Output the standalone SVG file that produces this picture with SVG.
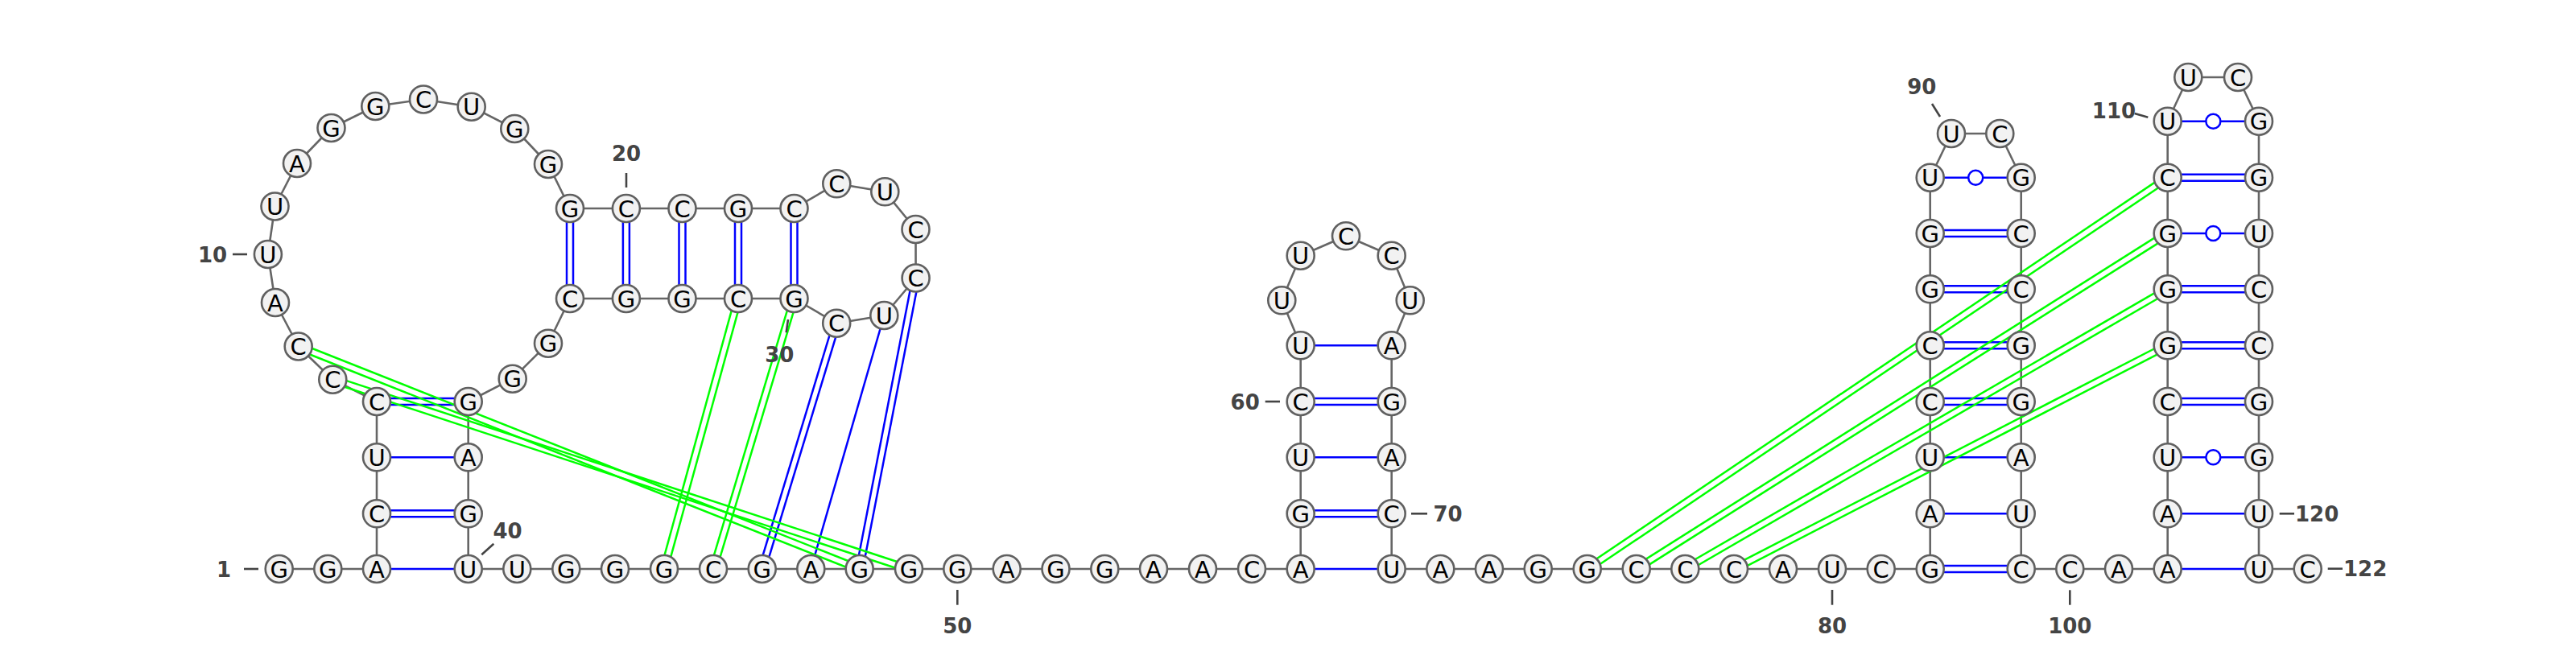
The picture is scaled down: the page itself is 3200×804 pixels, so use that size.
<svg xmlns="http://www.w3.org/2000/svg" width="3200" height="804" viewBox="0 0 3200 804">
<style>
.bb{fill:none;stroke:#666;stroke-width:2.6;stroke-linejoin:round}
.bp line{stroke:#0000ff;stroke-width:2.5}
.pk line{stroke:#00ff00;stroke-width:2.5}
.wb{fill:#fff;stroke:#0000ff;stroke-width:2.5}
.nd circle{fill:#f2f2f2;stroke:#606060;stroke-width:2.6}
.nd text{font-family:"DejaVu Sans",sans-serif;font-size:29px;text-anchor:middle;fill:#000}
.lb text{font-family:"DejaVu Sans",sans-serif;font-size:26px;font-weight:bold;fill:#444}
.lb line{stroke:#444;stroke-width:2.6}
</style>
<rect width="3200" height="804" fill="#fff"/>
<g id="connectors">
<polyline class="bb" points="346.7,707 407.3,707 468,707 468,638.3 468,568.3 468,499 413.3,471.7 370.7,430.5 342,376 332.9,316 341.5,256.5 369,203 411.5,159 466.3,132 526,123.5 585.7,132.7 639.3,160 681,204 708,259 777.9,259 847.5,259 917,259 986.5,259 1039.3,228.3 1099.3,238.3 1137.5,285 1137.6,345.5 1098.3,392 1039.2,401.7 986.5,371 917,371 847.5,371 777.9,371 708,371 681,426.7 636.7,470.7 581.7,499 581.7,568.3 581.7,638.3 581.7,707 642.3,707 703.3,707 764,707 825,707 886,707 946.7,707 1007.3,707 1067.7,707 1129,707 1189.3,707 1250.7,707 1311.5,707 1372.3,707 1433,707 1494,707 1555,707 1615.7,707 1615.7,638.3 1615.7,568.3 1615.7,499 1615.7,429.3 1592.3,373.3 1615.7,317.7 1672,293.3 1728.7,317.7 1751.7,373.3 1728.7,429.3 1728.7,499 1728.7,568.3 1728.7,638.3 1728.7,707 1789.3,707 1850,707 1910.7,707 1971.7,707 2032.7,707 2093.3,707 2154,707 2215,707 2276,707 2336.7,707 2397.7,707 2397.7,638.3 2397.7,568.3 2397.7,499 2397.7,429.3 2397.7,359.3 2397.7,290 2397.7,220.7 2424,166 2484.3,166 2510.7,220.7 2510.7,290 2510.7,359.3 2510.7,429.3 2510.7,499 2510.7,568.3 2510.7,638.3 2510.7,707 2571.3,707 2632,707 2692.7,707 2692.7,638.3 2692.7,568.3 2692.7,499 2692.7,429.3 2692.7,359.3 2692.7,290 2692.7,220.7 2692.7,150.7 2718.3,96 2780,96 2806,150.7 2806,220.7 2806,290 2806,359.3 2806,429.3 2806,499 2806,568.3 2806,638.3 2806,707 2866.7,707"/>
<g class="bp">
<line x1="468" y1="707" x2="581.7" y2="707"/>
<line x1="468" y1="634.3" x2="581.7" y2="634.3"/><line x1="468" y1="642.3" x2="581.7" y2="642.3"/>
<line x1="468" y1="568.3" x2="581.7" y2="568.3"/>
<line x1="468" y1="495" x2="581.7" y2="495"/><line x1="468" y1="503" x2="581.7" y2="503"/>
<line x1="704" y1="259" x2="704" y2="371"/><line x1="712" y1="259" x2="712" y2="371"/>
<line x1="773.9" y1="259" x2="773.9" y2="371"/><line x1="781.9" y1="259" x2="781.9" y2="371"/>
<line x1="843.5" y1="259" x2="843.5" y2="371"/><line x1="851.5" y1="259" x2="851.5" y2="371"/>
<line x1="913" y1="259" x2="913" y2="371"/><line x1="921" y1="259" x2="921" y2="371"/>
<line x1="982.5" y1="259" x2="982.5" y2="371"/><line x1="990.5" y1="259" x2="990.5" y2="371"/>
<line x1="1133.67" y1="344.74" x2="1063.77" y2="706.24"/><line x1="1141.53" y1="346.26" x2="1071.63" y2="707.76"/>
<line x1="1098.3" y1="392" x2="1007.3" y2="707"/>
<line x1="1035.37" y1="400.54" x2="942.87" y2="705.84"/><line x1="1043.03" y1="402.86" x2="950.53" y2="708.16"/>
<line x1="1615.7" y1="707" x2="1728.7" y2="707"/>
<line x1="1615.7" y1="634.3" x2="1728.7" y2="634.3"/><line x1="1615.7" y1="642.3" x2="1728.7" y2="642.3"/>
<line x1="1615.7" y1="568.3" x2="1728.7" y2="568.3"/>
<line x1="1615.7" y1="495" x2="1728.7" y2="495"/><line x1="1615.7" y1="503" x2="1728.7" y2="503"/>
<line x1="1615.7" y1="429.3" x2="1728.7" y2="429.3"/>
<line x1="2397.7" y1="703" x2="2510.7" y2="703"/><line x1="2397.7" y1="711" x2="2510.7" y2="711"/>
<line x1="2397.7" y1="638.3" x2="2510.7" y2="638.3"/>
<line x1="2397.7" y1="568.3" x2="2510.7" y2="568.3"/>
<line x1="2397.7" y1="495" x2="2510.7" y2="495"/><line x1="2397.7" y1="503" x2="2510.7" y2="503"/>
<line x1="2397.7" y1="425.3" x2="2510.7" y2="425.3"/><line x1="2397.7" y1="433.3" x2="2510.7" y2="433.3"/>
<line x1="2397.7" y1="355.3" x2="2510.7" y2="355.3"/><line x1="2397.7" y1="363.3" x2="2510.7" y2="363.3"/>
<line x1="2397.7" y1="286" x2="2510.7" y2="286"/><line x1="2397.7" y1="294" x2="2510.7" y2="294"/>
<line x1="2397.7" y1="220.7" x2="2510.7" y2="220.7"/>
<line x1="2692.7" y1="707" x2="2806" y2="707"/>
<line x1="2692.7" y1="638.3" x2="2806" y2="638.3"/>
<line x1="2692.7" y1="568.3" x2="2806" y2="568.3"/>
<line x1="2692.7" y1="495" x2="2806" y2="495"/><line x1="2692.7" y1="503" x2="2806" y2="503"/>
<line x1="2692.7" y1="425.3" x2="2806" y2="425.3"/><line x1="2692.7" y1="433.3" x2="2806" y2="433.3"/>
<line x1="2692.7" y1="355.3" x2="2806" y2="355.3"/><line x1="2692.7" y1="363.3" x2="2806" y2="363.3"/>
<line x1="2692.7" y1="290" x2="2806" y2="290"/>
<line x1="2692.7" y1="216.7" x2="2806" y2="216.7"/><line x1="2692.7" y1="224.7" x2="2806" y2="224.7"/>
<line x1="2692.7" y1="150.7" x2="2806" y2="150.7"/>
</g>
<circle class="wb" cx="2454.2" cy="220.7" r="9"/>
<circle class="wb" cx="2749.35" cy="568.3" r="9"/>
<circle class="wb" cx="2749.35" cy="290" r="9"/>
<circle class="wb" cx="2749.35" cy="150.7" r="9"/>
<g class="pk">
<line x1="412.05" y1="475.5" x2="1127.75" y2="710.8"/><line x1="414.55" y1="467.9" x2="1130.25" y2="703.2"/>
<line x1="369.22" y1="434.22" x2="1066.22" y2="710.72"/><line x1="372.18" y1="426.78" x2="1069.18" y2="703.28"/>
<line x1="982.67" y1="369.85" x2="882.17" y2="705.85"/><line x1="990.33" y1="372.15" x2="889.83" y2="708.15"/>
<line x1="913.14" y1="369.94" x2="821.14" y2="705.94"/><line x1="920.86" y1="372.06" x2="828.86" y2="708.06"/>
<line x1="1973.94" y1="710.32" x2="2694.94" y2="224.02"/><line x1="1969.46" y1="703.68" x2="2690.46" y2="217.38"/>
<line x1="2034.84" y1="710.38" x2="2694.84" y2="293.38"/><line x1="2030.56" y1="703.62" x2="2690.56" y2="286.62"/>
<line x1="2095.31" y1="710.46" x2="2694.71" y2="362.76"/><line x1="2091.29" y1="703.54" x2="2690.69" y2="355.84"/>
<line x1="2155.83" y1="710.56" x2="2694.53" y2="432.86"/><line x1="2152.17" y1="703.44" x2="2690.87" y2="425.74"/>
</g>
</g>
<g id="labels" class="lb">
<line x1="303" y1="707" x2="321" y2="707"/><text x="278" y="716.5" text-anchor="middle">1</text>
<line x1="289" y1="316" x2="307" y2="316"/><text x="264" y="325.5" text-anchor="middle">10</text>
<line x1="778" y1="215" x2="778" y2="233"/><text x="778" y="200.2" text-anchor="middle">20</text>
<line x1="979" y1="397" x2="976.7" y2="413.3"/><text x="968.3" y="449.5" text-anchor="middle">30</text>
<line x1="598.3" y1="689.3" x2="613.3" y2="675.7"/><text x="630.5" y="668.5" text-anchor="middle">40</text>
<line x1="1189.3" y1="733" x2="1189.3" y2="751.7"/><text x="1189.3" y="787" text-anchor="middle">50</text>
<line x1="1571.7" y1="499" x2="1590" y2="499"/><text x="1546.7" y="508.5" text-anchor="middle">60</text>
<line x1="1753" y1="638.3" x2="1773" y2="638.3"/><text x="1798.5" y="647.8" text-anchor="middle">70</text>
<line x1="2276" y1="733" x2="2276" y2="751.7"/><text x="2276" y="787" text-anchor="middle">80</text>
<line x1="2400" y1="129" x2="2410" y2="145"/><text x="2387.3" y="117.2" text-anchor="middle">90</text>
<line x1="2571.3" y1="733.3" x2="2571.3" y2="751.7"/><text x="2571.3" y="787.3" text-anchor="middle">100</text>
<line x1="2651.7" y1="141" x2="2668.3" y2="145.7"/><text x="2626" y="146.8" text-anchor="middle">110</text>
<line x1="2831.7" y1="638.3" x2="2850" y2="638.3"/><text x="2851" y="647.8">120</text>
<line x1="2891.7" y1="706.7" x2="2910" y2="706.7"/><text x="2911" y="716.2">122</text>
</g>
<g id="nodes" class="nd">
<g id="n1" transform="translate(346.7,707)"><circle r="17"/><text y="10.5">G</text></g>
<g id="n2" transform="translate(407.3,707)"><circle r="17"/><text y="10.5">G</text></g>
<g id="n3" transform="translate(468,707)"><circle r="17"/><text y="10.5">A</text></g>
<g id="n4" transform="translate(468,638.3)"><circle r="17"/><text y="10.5">C</text></g>
<g id="n5" transform="translate(468,568.3)"><circle r="17"/><text y="10.5">U</text></g>
<g id="n6" transform="translate(468,499)"><circle r="17"/><text y="10.5">C</text></g>
<g id="n7" transform="translate(413.3,471.7)"><circle r="17"/><text y="10.5">C</text></g>
<g id="n8" transform="translate(370.7,430.5)"><circle r="17"/><text y="10.5">C</text></g>
<g id="n9" transform="translate(342,376)"><circle r="17"/><text y="10.5">A</text></g>
<g id="n10" transform="translate(332.9,316)"><circle r="17"/><text y="10.5">U</text></g>
<g id="n11" transform="translate(341.5,256.5)"><circle r="17"/><text y="10.5">U</text></g>
<g id="n12" transform="translate(369,203)"><circle r="17"/><text y="10.5">A</text></g>
<g id="n13" transform="translate(411.5,159)"><circle r="17"/><text y="10.5">G</text></g>
<g id="n14" transform="translate(466.3,132)"><circle r="17"/><text y="10.5">G</text></g>
<g id="n15" transform="translate(526,123.5)"><circle r="17"/><text y="10.5">C</text></g>
<g id="n16" transform="translate(585.7,132.7)"><circle r="17"/><text y="10.5">U</text></g>
<g id="n17" transform="translate(639.3,160)"><circle r="17"/><text y="10.5">G</text></g>
<g id="n18" transform="translate(681,204)"><circle r="17"/><text y="10.5">G</text></g>
<g id="n19" transform="translate(708,259)"><circle r="17"/><text y="10.5">G</text></g>
<g id="n20" transform="translate(777.9,259)"><circle r="17"/><text y="10.5">C</text></g>
<g id="n21" transform="translate(847.5,259)"><circle r="17"/><text y="10.5">C</text></g>
<g id="n22" transform="translate(917,259)"><circle r="17"/><text y="10.5">G</text></g>
<g id="n23" transform="translate(986.5,259)"><circle r="17"/><text y="10.5">C</text></g>
<g id="n24" transform="translate(1039.3,228.3)"><circle r="17"/><text y="10.5">C</text></g>
<g id="n25" transform="translate(1099.3,238.3)"><circle r="17"/><text y="10.5">U</text></g>
<g id="n26" transform="translate(1137.5,285)"><circle r="17"/><text y="10.5">C</text></g>
<g id="n27" transform="translate(1137.6,345.5)"><circle r="17"/><text y="10.5">C</text></g>
<g id="n28" transform="translate(1098.3,392)"><circle r="17"/><text y="10.5">U</text></g>
<g id="n29" transform="translate(1039.2,401.7)"><circle r="17"/><text y="10.5">C</text></g>
<g id="n30" transform="translate(986.5,371)"><circle r="17"/><text y="10.5">G</text></g>
<g id="n31" transform="translate(917,371)"><circle r="17"/><text y="10.5">C</text></g>
<g id="n32" transform="translate(847.5,371)"><circle r="17"/><text y="10.5">G</text></g>
<g id="n33" transform="translate(777.9,371)"><circle r="17"/><text y="10.5">G</text></g>
<g id="n34" transform="translate(708,371)"><circle r="17"/><text y="10.5">C</text></g>
<g id="n35" transform="translate(681,426.7)"><circle r="17"/><text y="10.5">G</text></g>
<g id="n36" transform="translate(636.7,470.7)"><circle r="17"/><text y="10.5">G</text></g>
<g id="n37" transform="translate(581.7,499)"><circle r="17"/><text y="10.5">G</text></g>
<g id="n38" transform="translate(581.7,568.3)"><circle r="17"/><text y="10.5">A</text></g>
<g id="n39" transform="translate(581.7,638.3)"><circle r="17"/><text y="10.5">G</text></g>
<g id="n40" transform="translate(581.7,707)"><circle r="17"/><text y="10.5">U</text></g>
<g id="n41" transform="translate(642.3,707)"><circle r="17"/><text y="10.5">U</text></g>
<g id="n42" transform="translate(703.3,707)"><circle r="17"/><text y="10.5">G</text></g>
<g id="n43" transform="translate(764,707)"><circle r="17"/><text y="10.5">G</text></g>
<g id="n44" transform="translate(825,707)"><circle r="17"/><text y="10.5">G</text></g>
<g id="n45" transform="translate(886,707)"><circle r="17"/><text y="10.5">C</text></g>
<g id="n46" transform="translate(946.7,707)"><circle r="17"/><text y="10.5">G</text></g>
<g id="n47" transform="translate(1007.3,707)"><circle r="17"/><text y="10.5">A</text></g>
<g id="n48" transform="translate(1067.7,707)"><circle r="17"/><text y="10.5">G</text></g>
<g id="n49" transform="translate(1129,707)"><circle r="17"/><text y="10.5">G</text></g>
<g id="n50" transform="translate(1189.3,707)"><circle r="17"/><text y="10.5">G</text></g>
<g id="n51" transform="translate(1250.7,707)"><circle r="17"/><text y="10.5">A</text></g>
<g id="n52" transform="translate(1311.5,707)"><circle r="17"/><text y="10.5">G</text></g>
<g id="n53" transform="translate(1372.3,707)"><circle r="17"/><text y="10.5">G</text></g>
<g id="n54" transform="translate(1433,707)"><circle r="17"/><text y="10.5">A</text></g>
<g id="n55" transform="translate(1494,707)"><circle r="17"/><text y="10.5">A</text></g>
<g id="n56" transform="translate(1555,707)"><circle r="17"/><text y="10.5">C</text></g>
<g id="n57" transform="translate(1615.7,707)"><circle r="17"/><text y="10.5">A</text></g>
<g id="n58" transform="translate(1615.7,638.3)"><circle r="17"/><text y="10.5">G</text></g>
<g id="n59" transform="translate(1615.7,568.3)"><circle r="17"/><text y="10.5">U</text></g>
<g id="n60" transform="translate(1615.7,499)"><circle r="17"/><text y="10.5">C</text></g>
<g id="n61" transform="translate(1615.7,429.3)"><circle r="17"/><text y="10.5">U</text></g>
<g id="n62" transform="translate(1592.3,373.3)"><circle r="17"/><text y="10.5">U</text></g>
<g id="n63" transform="translate(1615.7,317.7)"><circle r="17"/><text y="10.5">U</text></g>
<g id="n64" transform="translate(1672,293.3)"><circle r="17"/><text y="10.5">C</text></g>
<g id="n65" transform="translate(1728.7,317.7)"><circle r="17"/><text y="10.5">C</text></g>
<g id="n66" transform="translate(1751.7,373.3)"><circle r="17"/><text y="10.5">U</text></g>
<g id="n67" transform="translate(1728.7,429.3)"><circle r="17"/><text y="10.5">A</text></g>
<g id="n68" transform="translate(1728.7,499)"><circle r="17"/><text y="10.5">G</text></g>
<g id="n69" transform="translate(1728.7,568.3)"><circle r="17"/><text y="10.5">A</text></g>
<g id="n70" transform="translate(1728.7,638.3)"><circle r="17"/><text y="10.5">C</text></g>
<g id="n71" transform="translate(1728.7,707)"><circle r="17"/><text y="10.5">U</text></g>
<g id="n72" transform="translate(1789.3,707)"><circle r="17"/><text y="10.5">A</text></g>
<g id="n73" transform="translate(1850,707)"><circle r="17"/><text y="10.5">A</text></g>
<g id="n74" transform="translate(1910.7,707)"><circle r="17"/><text y="10.5">G</text></g>
<g id="n75" transform="translate(1971.7,707)"><circle r="17"/><text y="10.5">G</text></g>
<g id="n76" transform="translate(2032.7,707)"><circle r="17"/><text y="10.5">C</text></g>
<g id="n77" transform="translate(2093.3,707)"><circle r="17"/><text y="10.5">C</text></g>
<g id="n78" transform="translate(2154,707)"><circle r="17"/><text y="10.5">C</text></g>
<g id="n79" transform="translate(2215,707)"><circle r="17"/><text y="10.5">A</text></g>
<g id="n80" transform="translate(2276,707)"><circle r="17"/><text y="10.5">U</text></g>
<g id="n81" transform="translate(2336.7,707)"><circle r="17"/><text y="10.5">C</text></g>
<g id="n82" transform="translate(2397.7,707)"><circle r="17"/><text y="10.5">G</text></g>
<g id="n83" transform="translate(2397.7,638.3)"><circle r="17"/><text y="10.5">A</text></g>
<g id="n84" transform="translate(2397.7,568.3)"><circle r="17"/><text y="10.5">U</text></g>
<g id="n85" transform="translate(2397.7,499)"><circle r="17"/><text y="10.5">C</text></g>
<g id="n86" transform="translate(2397.7,429.3)"><circle r="17"/><text y="10.5">C</text></g>
<g id="n87" transform="translate(2397.7,359.3)"><circle r="17"/><text y="10.5">G</text></g>
<g id="n88" transform="translate(2397.7,290)"><circle r="17"/><text y="10.5">G</text></g>
<g id="n89" transform="translate(2397.7,220.7)"><circle r="17"/><text y="10.5">U</text></g>
<g id="n90" transform="translate(2424,166)"><circle r="17"/><text y="10.5">U</text></g>
<g id="n91" transform="translate(2484.3,166)"><circle r="17"/><text y="10.5">C</text></g>
<g id="n92" transform="translate(2510.7,220.7)"><circle r="17"/><text y="10.5">G</text></g>
<g id="n93" transform="translate(2510.7,290)"><circle r="17"/><text y="10.5">C</text></g>
<g id="n94" transform="translate(2510.7,359.3)"><circle r="17"/><text y="10.5">C</text></g>
<g id="n95" transform="translate(2510.7,429.3)"><circle r="17"/><text y="10.5">G</text></g>
<g id="n96" transform="translate(2510.7,499)"><circle r="17"/><text y="10.5">G</text></g>
<g id="n97" transform="translate(2510.7,568.3)"><circle r="17"/><text y="10.5">A</text></g>
<g id="n98" transform="translate(2510.7,638.3)"><circle r="17"/><text y="10.5">U</text></g>
<g id="n99" transform="translate(2510.7,707)"><circle r="17"/><text y="10.5">C</text></g>
<g id="n100" transform="translate(2571.3,707)"><circle r="17"/><text y="10.5">C</text></g>
<g id="n101" transform="translate(2632,707)"><circle r="17"/><text y="10.5">A</text></g>
<g id="n102" transform="translate(2692.7,707)"><circle r="17"/><text y="10.5">A</text></g>
<g id="n103" transform="translate(2692.7,638.3)"><circle r="17"/><text y="10.5">A</text></g>
<g id="n104" transform="translate(2692.7,568.3)"><circle r="17"/><text y="10.5">U</text></g>
<g id="n105" transform="translate(2692.7,499)"><circle r="17"/><text y="10.5">C</text></g>
<g id="n106" transform="translate(2692.7,429.3)"><circle r="17"/><text y="10.5">G</text></g>
<g id="n107" transform="translate(2692.7,359.3)"><circle r="17"/><text y="10.5">G</text></g>
<g id="n108" transform="translate(2692.7,290)"><circle r="17"/><text y="10.5">G</text></g>
<g id="n109" transform="translate(2692.7,220.7)"><circle r="17"/><text y="10.5">C</text></g>
<g id="n110" transform="translate(2692.7,150.7)"><circle r="17"/><text y="10.5">U</text></g>
<g id="n111" transform="translate(2718.3,96)"><circle r="17"/><text y="10.5">U</text></g>
<g id="n112" transform="translate(2780,96)"><circle r="17"/><text y="10.5">C</text></g>
<g id="n113" transform="translate(2806,150.7)"><circle r="17"/><text y="10.5">G</text></g>
<g id="n114" transform="translate(2806,220.7)"><circle r="17"/><text y="10.5">G</text></g>
<g id="n115" transform="translate(2806,290)"><circle r="17"/><text y="10.5">U</text></g>
<g id="n116" transform="translate(2806,359.3)"><circle r="17"/><text y="10.5">C</text></g>
<g id="n117" transform="translate(2806,429.3)"><circle r="17"/><text y="10.5">C</text></g>
<g id="n118" transform="translate(2806,499)"><circle r="17"/><text y="10.5">G</text></g>
<g id="n119" transform="translate(2806,568.3)"><circle r="17"/><text y="10.5">G</text></g>
<g id="n120" transform="translate(2806,638.3)"><circle r="17"/><text y="10.5">U</text></g>
<g id="n121" transform="translate(2806,707)"><circle r="17"/><text y="10.5">U</text></g>
<g id="n122" transform="translate(2866.7,707)"><circle r="17"/><text y="10.5">C</text></g>
</g>
</svg>
